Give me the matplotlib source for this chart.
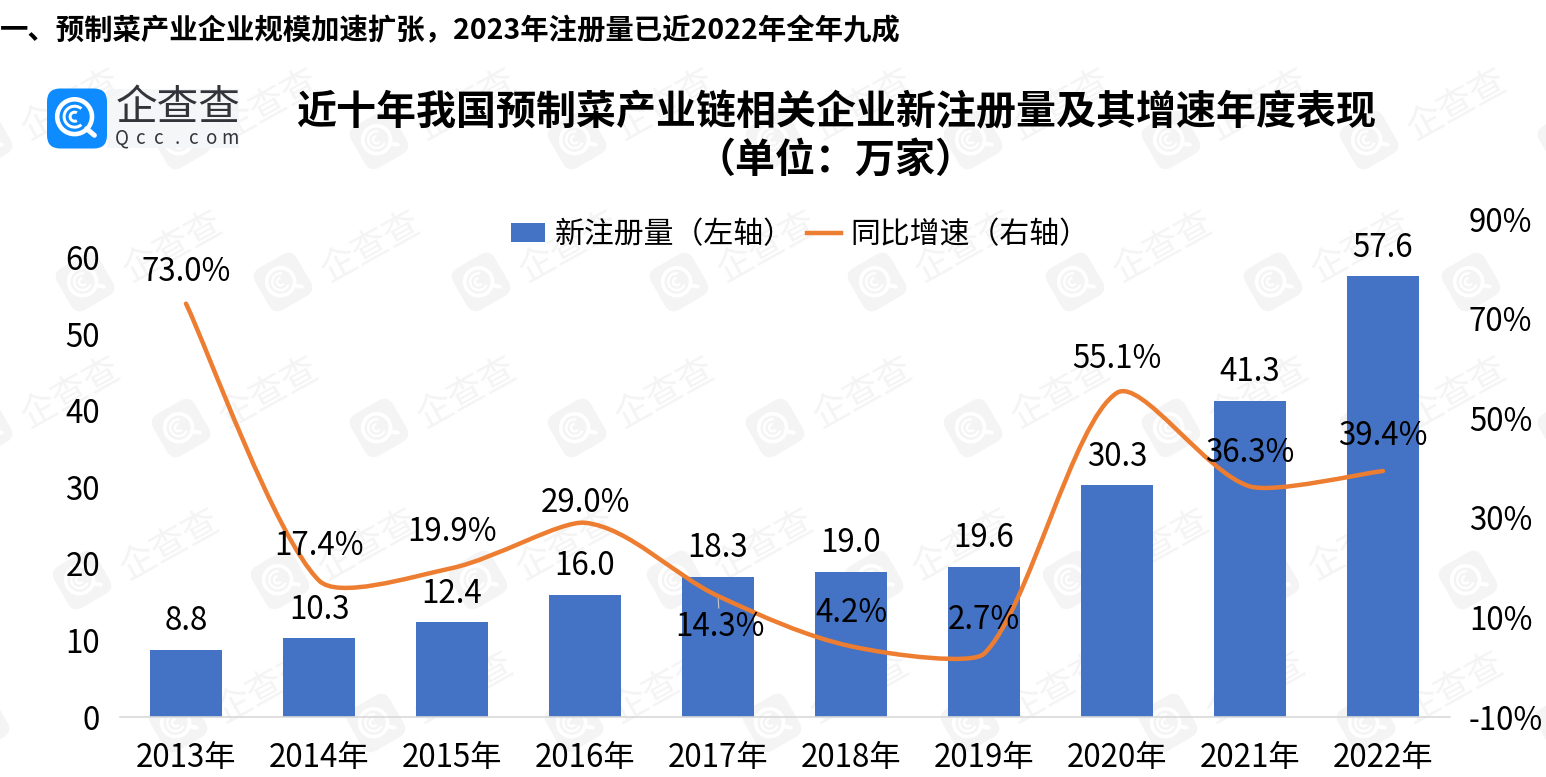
"""近十年预制菜产业链相关企业新注册量及其增速."""
import matplotlib
matplotlib.use("Agg")
import matplotlib.pyplot as plt
import numpy as np
from matplotlib.lines import Line2D
from matplotlib.patches import Circle, FancyBboxPatch, PathPatch, Rectangle, Wedge
from matplotlib.path import Path
from matplotlib.transforms import Affine2D

plt.rcParams["font.family"] = ["Noto Sans CJK SC", "DejaVu Sans"]

W, H = 1546, 777

years = ["2013年", "2014年", "2015年", "2016年", "2017年",
         "2018年", "2019年", "2020年", "2021年", "2022年"]
new_reg = [8.8, 10.3, 12.4, 16.0, 18.3, 19.0, 19.6, 30.3, 41.3, 57.6]
growth = [73.0, 17.4, 19.9, 29.0, 14.3, 4.2, 2.7, 55.1, 36.3, 39.4]
left_ticks = [0, 10, 20, 30, 40, 50, 60]
right_ticks = [-10, 10, 30, 50, 70, 90]

# сдвиг подписей линии от точки, в пикселях
growth_offsets = [(0, 32), (0, 35), (0, 36), (0, 20), (2, -31),
                  (0, 33), (0, 34), (0, 34), (0, 33), (0, 35)]

BLUE = "#4472c4"
ORANGE = "#ed7d31"
WM = "#f4f4f4"
LOGO_TXT = "#33333a"


def limited_handle(hx, hy, seg_dy):
    # ручка, уходящая за пределы соседнего отрезка, укорачивается (излом как в Excel)
    if hy * seg_dy >= 0 or hy == 0:
        return hx, hy
    s = min(0.55, 1.5 * abs(seg_dy) / abs(hy))
    return hx * s, hy * s


def smooth_path(xs, ys):
    # сглаженная линия: кривые Безье через сами точки
    xs, ys = np.asarray(xs, float), np.asarray(ys, float)
    verts, codes = [(xs[0], ys[0])], [Path.MOVETO]
    n = len(xs)
    for i in range(n - 1):
        a, b = max(i - 1, 0), min(i + 2, n - 1)
        seg = ys[i + 1] - ys[i]
        hx, hy = limited_handle((xs[i + 1] - xs[a]) / 6, (ys[i + 1] - ys[a]) / 6, seg)
        verts.append((xs[i] + hx, ys[i] + hy))
        hx, hy = limited_handle((xs[b] - xs[i]) / 6, (ys[b] - ys[i]) / 6, seg)
        verts.append((xs[i + 1] - hx, ys[i + 1] - hy))
        verts.append((xs[i + 1], ys[i + 1]))
        codes += [Path.CURVE4] * 3
    return Path(verts, codes)


def draw_mark(ax, cx, cy, size, face, ring, angle=0.0, zorder=1):
    # значок логотипа: скруглённый квадрат, кольцо с хвостиком и дуги внутри
    rot = Affine2D().rotate_deg_around(cx, cy, angle) + ax.transData
    ax.add_patch(FancyBboxPatch((cx - size * 0.3, cy - size * 0.3), size * 0.6, size * 0.6,
                                boxstyle=f"round,pad={size * 0.2},rounding_size={size * 0.22}",
                                fc=face, ec="none", transform=rot, zorder=zorder))
    mx, my = cx - size * 0.04, cy - size * 0.03
    ax.add_patch(Circle((mx, my), size * 0.29, fc="none", ec=ring, lw=size * 0.055,
                        transform=rot, zorder=zorder))
    ax.add_patch(Wedge((mx, my), size * 0.2, 50, 310, width=size * 0.05, fc=ring, ec="none",
                       transform=rot, zorder=zorder))
    ax.add_patch(Wedge((mx, my), size * 0.1, 60, 300, width=size * 0.05, fc=ring, ec="none",
                       transform=rot, zorder=zorder))
    ax.plot([mx + size * 0.2, mx + size * 0.33], [my + size * 0.2, my + size * 0.31],
            color=ring, lw=size * 0.06, solid_capstyle="round", transform=rot, zorder=zorder)


fig = plt.figure(figsize=(W / 100, H / 100), dpi=100)

# фон: водяные знаки, логотип, заголовки (координаты в пикселях)
bg = fig.add_axes([0, 0, 1, 1], zorder=0)
bg.set_xlim(0, W)
bg.set_ylim(H, 0)
bg.axis("off")

for row_y, x0 in [(140, 181), (282, 85), (428, 181), (580, 82), (723, 178)]:
    for k in range(-1, 8):
        wx = x0 + 198 * k
        draw_mark(bg, wx, row_y, 48, WM, "white", angle=-30)
        tx = wx + 88
        if 70 < tx < W - 70:
            bg.text(tx, row_y - 35, "企查查", color=WM, fontsize=26, rotation=29,
                    ha="center", va="center", rotation_mode="anchor")

bg.text(0, 31, "一、预制菜产业企业规模加速扩张，2023年注册量已近2022年全年九成",
        fontsize=20.45, fontweight="bold", ha="left", va="center", color="black")
bg.text(836, 113, "近十年我国预制菜产业链相关企业新注册量及其增速年度表现",
        fontsize=28.8, fontweight="bold", ha="center", va="center", color="black")
bg.text(836, 160, "（单位：万家）", fontsize=28.8, fontweight="bold",
        ha="center", va="center", color="black")

bg.add_patch(Rectangle((107, 89), 132, 59, fc="#f5f6f8", ec="none", zorder=2))
draw_mark(bg, 77, 118.5, 60, "#0d8bff", "white", zorder=3)
bg.text(178, 109, "企查查", fontsize=30, color=LOGO_TXT, ha="center", va="center", zorder=3)
for ch, cx in zip("Qcc.com", [122, 141, 159, 177, 194, 212, 230]):
    bg.text(cx, 138, ch, fontsize=13.5, color=LOGO_TXT, ha="center", va="center", zorder=3)

# сам график
ax = fig.add_axes([119.5 / W, 1 - 717 / H, 1330 / W, 498 / H], zorder=1)
ax.patch.set_alpha(0)
x = np.arange(len(years))
bars = ax.bar(x, new_reg, width=0.535, color=BLUE, label="新注册量（左轴）", zorder=2)
ax.set_xlim(-0.5, len(years) - 0.5)
ax.set_ylim(0, 498 / 7.656)
ax.set_xticks(x, years)
ax.set_yticks(left_ticks)
ax.tick_params(axis="both", length=0, labelsize=22.5, colors="black")
ax.tick_params(axis="y", pad=14)
ax.tick_params(axis="x", pad=18)
for s in ("top", "left", "right"):
    ax.spines[s].set_visible(False)
ax.spines["bottom"].set_color("#d9d9d9")
ax.spines["bottom"].set_linewidth(1.2)
ax.bar_label(bars, labels=[f"{v:.1f}" for v in new_reg], padding=9, fontsize=22.5, color="black")

ax2 = ax.twinx()
ax2.set_ylim(right_ticks[0], right_ticks[-1])
ax2.set_yticks(right_ticks, [f"{v}%" for v in right_ticks])
ax2.tick_params(axis="y", length=0, labelsize=22.5, pad=14, colors="black")
for s in ax2.spines.values():
    s.set_visible(False)
ax2.add_patch(PathPatch(smooth_path(x, growth), fc="none", ec=ORANGE, lw=3.2,
                        capstyle="round", zorder=3))
for xi, g, (dx, dy) in zip(x, growth, growth_offsets):
    # у 2017 снизу есть короткая выноска
    arrow = dict(arrowstyle="-", color="#c8c8c8", lw=0.8, shrinkA=0, shrinkB=2) if years[xi] == "2017年" else None
    ax2.annotate(f"{g:.1f}%", (xi, g), xytext=(dx, dy), textcoords="offset pixels",
                 ha="center", va="center", fontsize=22.5, color="black", zorder=4,
                 arrowprops=arrow)

handles = [Rectangle((0, 0), 1, 1, fc=BLUE, ec="none"),
           Line2D([0], [0], color=ORANGE, lw=3.2)]
ax2.legend(handles, ["新注册量（左轴）", "同比增速（右轴）"], ncol=2, frameon=False,
           fontsize=21.5, loc="center", bbox_to_anchor=((800 - 119.5) / 1330, (717 - 235) / 498),
           handlelength=1.15, handleheight=0.6, handletextpad=0.3, columnspacing=0.45,
           borderpad=0, borderaxespad=0)

fig.savefig("out.png", dpi=100)
